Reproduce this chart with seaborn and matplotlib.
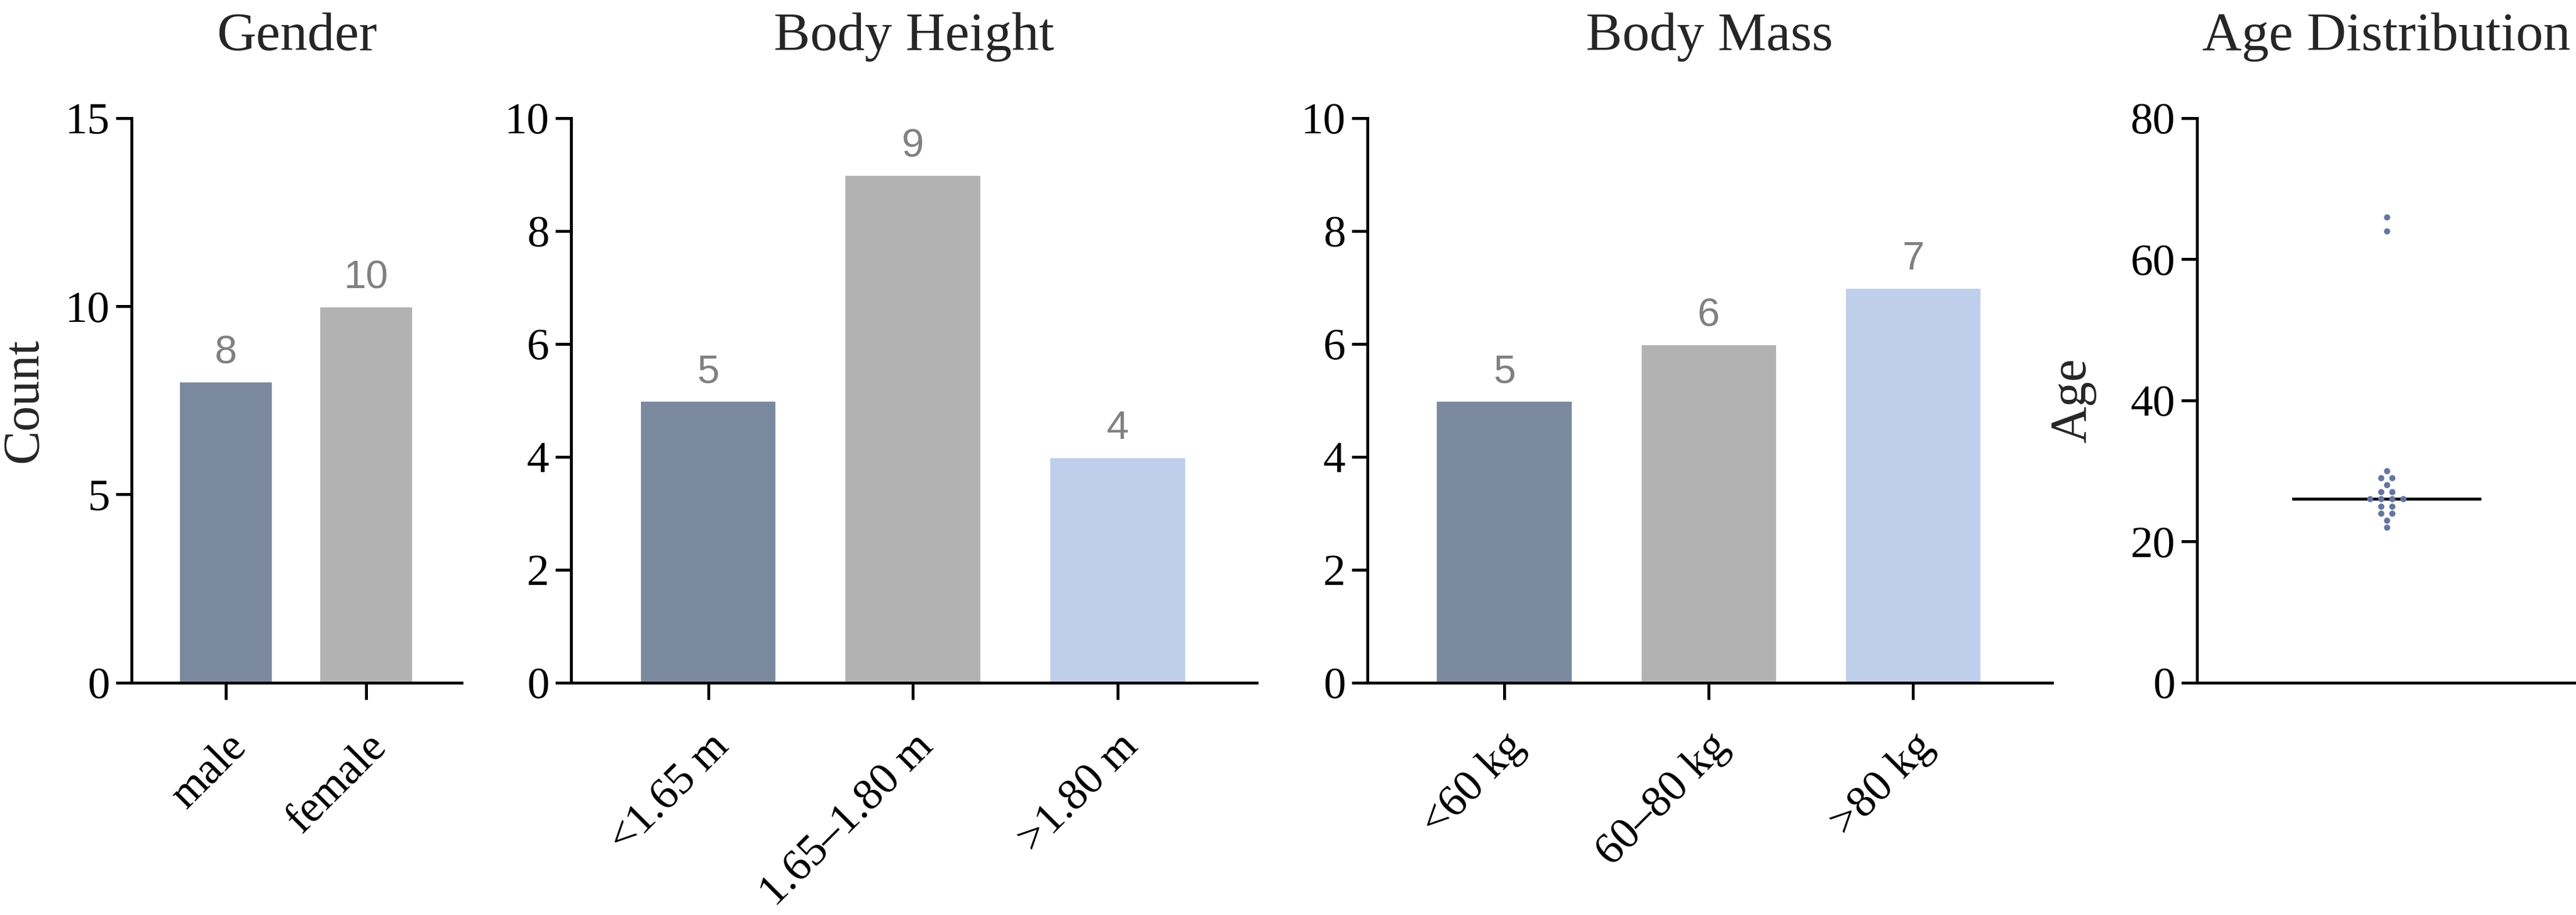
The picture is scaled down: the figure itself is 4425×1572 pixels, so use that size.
import numpy as np
import pandas as pd
import matplotlib.pyplot as plt
import seaborn as sns

gender_labels = ["male", "female"]
gender_counts = [8, 10]

height_labels = ["<1.65 m", "1.65\u20131.80 m", ">1.80 m"]
height_counts = [5, 9, 4]

mass_labels = ["<60 kg", "60\u201380 kg", ">80 kg"]
mass_counts = [5, 6, 7]

ages = [22, 23, 24, 24, 25, 25, 26, 26, 26, 26, 27, 27, 28, 29, 29, 30, 64, 66]

BAR_COLORS = ["#7b899e", "#b2b2b2", "#bfceea"]
DOT_COLOR = "#6476a0"
VALUE_COLOR = "#808080"

sns.set_style("ticks")
plt.rcParams.update({
    "font.family": ["Liberation Serif", "DejaVu Serif"],
    "font.size": 18,
    "axes.linewidth": 1.2,
    "xtick.major.width": 1.2,
    "ytick.major.width": 1.2,
    "xtick.major.size": 7,
    "ytick.major.size": 6.5,
    "xtick.color": "black",
    "ytick.color": "black",
    "axes.edgecolor": "black",
    "xtick.labelsize": 18.5,
    "ytick.labelsize": 18.5,
    "ytick.major.pad": 2.5,
})

fig = plt.figure(figsize=(14.75, 5.24), dpi=300)
bottom, height = 0.254, 0.617
positions = [
    [0.0511, bottom, 0.1281, height],
    [0.2217, bottom, 0.2662, height],
    [0.5308, bottom, 0.2658, height],
    [0.8529, bottom, 0.1471, height],
]
axes = [fig.add_axes(p) for p in positions]


def _style(ax, title):
    ax.spines["top"].set_visible(False)
    ax.spines["right"].set_visible(False)
    ax.set_title(title, fontsize=22.5, pad=28)


def bar_panel(ax, labels, counts, title, yticks, ylabel=None):
    df = pd.DataFrame({"cat": labels, "n": counts})
    sns.barplot(data=df, x="cat", y="n", hue="cat", palette=BAR_COLORS[:len(labels)],
                width=0.67, saturation=1, legend=False, ax=ax)
    for cont in ax.containers:
        ax.bar_label(cont, padding=4, fontsize=16.5, color=VALUE_COLOR,
                     family=["Liberation Sans", "DejaVu Sans"])
    ax.set_xlim(-0.67, len(labels) - 1 + 0.68)
    ax.set_ylim(0, yticks[-1])
    ax.set_yticks(yticks)
    ax.set_xlabel("")
    ax.set_ylabel(ylabel if ylabel else "")
    if ylabel:
        ax.yaxis.label.set_fontsize(21)
        ax.yaxis.set_label_coords(-0.255, 0.5)
    ax.set_xticks(range(len(labels)))
    ax.set_xticklabels(labels, rotation=45, ha="right", va="top", rotation_mode="anchor")
    ax.tick_params(axis="x", pad=11)
    _style(ax, title)


bar_panel(axes[0], gender_labels, gender_counts, "Gender", [0, 5, 10, 15], "Count")
bar_panel(axes[1], height_labels, height_counts, "Body Height", [0, 2, 4, 6, 8, 10])
bar_panel(axes[2], mass_labels, mass_counts, "Body Mass", [0, 2, 4, 6, 8, 10])

# age dot plot: points sharing a value are spread symmetrically around the centre
ax = axes[3]
age_arr = np.array(ages)
offsets = np.zeros(len(age_arr))
step = 0.0292
for v in np.unique(age_arr):
    idx = np.where(age_arr == v)[0]
    offsets[idx] = (np.arange(len(idx)) - (len(idx) - 1) / 2) * step
sns.scatterplot(x=offsets, y=age_arr, color=DOT_COLOR, s=6.5, linewidth=0, ax=ax, zorder=3)
ax.hlines(np.median(age_arr), -0.25, 0.25, color="black", linewidth=1.2, zorder=2)
ax.set_xlim(-0.5, 0.5)
ax.set_ylim(0, 80)
ax.set_yticks([0, 20, 40, 60, 80])
ax.set_xticks([])
ax.set_ylabel("Age", fontsize=21)
ax.yaxis.set_label_coords(-0.265, 0.5)
_style(ax, "Age Distribution")

fig.savefig("out.png", dpi=300)
